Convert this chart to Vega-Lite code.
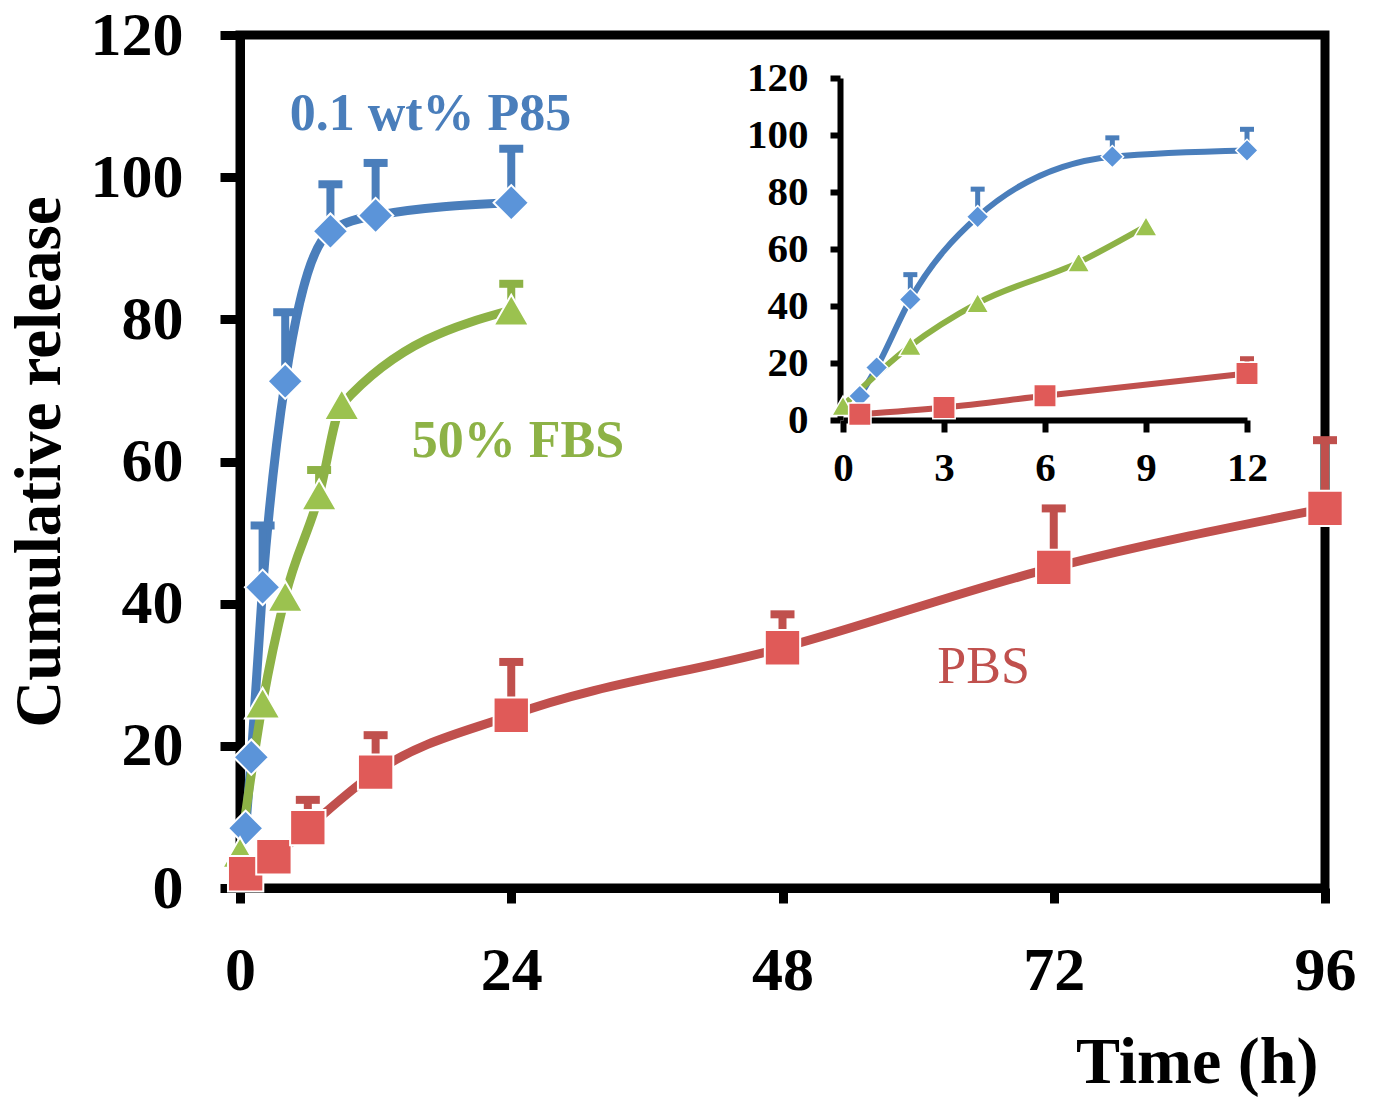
{
  "$schema": "https://vega.github.io/schema/vega-lite/v6.json",
  "width": 1085,
  "height": 853,
  "autosize": {"type": "none"},
  "padding": {"left": 240, "top": 35, "right": 49, "bottom": 214},
  "background": "white",
  "config": {
    "view": {"stroke": "black", "strokeWidth": 9},
    "font": "Liberation Serif",
    "axis": {"grid": false, "domainColor": "black", "tickColor": "black", "labelColor": "black", "titleColor": "black", "labelFont": "Liberation Serif", "titleFont": "Liberation Serif", "labelFontWeight": "bold", "titleFontWeight": "bold"}
  },
  "datasets": {
    "rel": [
      {"s": "P85", "t": 0.5, "v": 8.4, "e": null},
      {"s": "P85", "t": 1, "v": 18.4, "e": null},
      {"s": "P85", "t": 2, "v": 42.3, "e": 51},
      {"s": "P85", "t": 4, "v": 71.3, "e": 81},
      {"s": "P85", "t": 8, "v": 92.4, "e": 99},
      {"s": "P85", "t": 12, "v": 94.6, "e": 102},
      {"s": "P85", "t": 24, "v": 96.4, "e": 104},
      {"s": "FBS", "t": 0, "v": 5, "e": null},
      {"s": "FBS", "t": 2, "v": 26, "e": null},
      {"s": "FBS", "t": 4, "v": 41, "e": null},
      {"s": "FBS", "t": 7, "v": 55.3, "e": 58.8},
      {"s": "FBS", "t": 9, "v": 68, "e": null},
      {"s": "FBS", "t": 24, "v": 81.3, "e": 85},
      {"s": "PBS", "t": 0.5, "v": 2, "e": null},
      {"s": "PBS", "t": 3, "v": 4.4, "e": null},
      {"s": "PBS", "t": 6, "v": 8.5, "e": 12.4},
      {"s": "PBS", "t": 12, "v": 16.3, "e": 21.5},
      {"s": "PBS", "t": 24, "v": 24.3, "e": 31.8},
      {"s": "PBS", "t": 48, "v": 33.8, "e": 38.5},
      {"s": "PBS", "t": 72, "v": 45.1, "e": 53.4},
      {"s": "PBS", "t": 96, "v": 53.4, "e": 63}
    ],
    "labels": [
      {"s": "P85", "lab": "0.1 wt% P85", "t": 4.4, "v": 106.6},
      {"s": "FBS", "lab": "50% FBS", "t": 15.2, "v": 60.6},
      {"s": "PBS", "lab": "PBS", "t": 61.7, "v": 28.8}
    ]
  },
  "data": {"name": "rel"},
  "layer": [
    {
      "encoding": {
        "x": {"field": "t", "type": "quantitative", "scale": {"domain": [0, 96], "nice": false},
          "axis": {"values": [0, 24, 48, 72, 96], "title": "Time (h)", "titleFontSize": 66, "titleX": 1078, "titleAlign": "right", "titleAnchor": "end", "titlePadding": 29, "labelFontSize": 62, "labelPadding": 37, "tickSize": 15, "tickWidth": 9, "domainWidth": 9, "labelFlush": false}},
        "y": {"field": "v", "type": "quantitative", "scale": {"domain": [0, 120], "nice": false},
          "axis": {"values": [0, 20, 40, 60, 80, 100, 120], "title": "Cumulative release", "titleFontSize": 65, "titlePadding": 17, "labelFontSize": 62, "labelPadding": 37, "tickSize": 20, "tickWidth": 9, "domainWidth": 9, "labelFlush": false}}
      },
      "layer": [
        {"mark": {"type": "line", "interpolate": "monotone", "strokeWidth": 9},
          "encoding": {"color": {"field": "s", "type": "nominal", "scale": {"domain": ["P85", "FBS", "PBS"], "range": ["#4a7ebb", "#8db246", "#c0504d"]}, "legend": null}}},
        {"transform": [{"filter": "isValid(datum.e)"}],
          "mark": {"type": "rule", "strokeWidth": 8},
          "encoding": {"y2": {"field": "e"}, "color": {"field": "s", "type": "nominal", "legend": null}}},
        {"transform": [{"filter": "isValid(datum.e)"}],
          "mark": {"type": "tick", "orient": "horizontal", "size": 24, "thickness": 8, "opacity": 1},
          "encoding": {"y": {"field": "e", "type": "quantitative", "title": "Cumulative release"}, "color": {"field": "s", "type": "nominal", "legend": null}}},
        {"mark": {"type": "point", "filled": true, "size": 1250, "stroke": "white", "strokeWidth": 2, "opacity": 1},
          "encoding": {
            "shape": {"field": "s", "type": "nominal", "scale": {"domain": ["P85", "FBS", "PBS"], "range": ["diamond", "triangle-up", "square"]}, "legend": null},
            "fill": {"field": "s", "type": "nominal", "scale": {"domain": ["P85", "FBS", "PBS"], "range": ["#5b94d9", "#9bc24f", "#e05a58"]}, "legend": null}}},
        {"data": {"name": "labels"},
          "transform": [{"filter": "datum.s != 'PBS'"}],
          "mark": {"type": "text", "align": "left", "baseline": "alphabetic", "fontSize": 52, "fontWeight": "bold", "font": "Liberation Serif"},
          "encoding": {"text": {"field": "lab"}, "color": {"field": "s", "type": "nominal", "legend": null}}},
        {"data": {"name": "labels"},
          "transform": [{"filter": "datum.s == 'PBS'"}],
          "mark": {"type": "text", "align": "left", "baseline": "alphabetic", "fontSize": 52, "fontWeight": "normal", "font": "Liberation Serif"},
          "encoding": {"text": {"field": "lab"}, "color": {"field": "s", "type": "nominal", "legend": null}}}
      ]
    },
    {
      "transform": [{"filter": "datum.t <= 12"}],
      "encoding": {
        "x": {"field": "t", "type": "quantitative", "scale": {"domain": [0, 12], "nice": false, "range": [603, 1007]},
          "axis": {"orient": "bottom", "offset": -468, "values": [0, 3, 6, 9, 12], "title": null, "labelFontSize": 41, "labelPadding": 16, "tickSize": 12, "tickWidth": 6, "domainWidth": 6, "labelFlush": false}},
        "y": {"field": "v", "type": "quantitative", "scale": {"domain": [0, 120], "nice": false, "range": [385, 43]},
          "axis": {"orient": "left", "offset": -600, "values": [0, 20, 40, 60, 80, 100, 120], "title": null, "labelFontSize": 41, "labelPadding": 22, "tickSize": 10, "tickWidth": 6, "domainWidth": 6, "labelFlush": false}}
      },
      "layer": [
        {"mark": {"type": "line", "interpolate": "monotone", "strokeWidth": 6},
          "encoding": {"color": {"field": "s", "type": "nominal", "legend": null}}},
        {"transform": [{"filter": "isValid(datum.e) && datum.s == 'P85' || (datum.s == 'PBS' && datum.t == 12)"}],
          "mark": {"type": "rule", "strokeWidth": 5},
          "encoding": {"y2": {"field": "e"}, "color": {"field": "s", "type": "nominal", "legend": null}}},
        {"transform": [{"filter": "isValid(datum.e) && datum.s == 'P85' || (datum.s == 'PBS' && datum.t == 12)"}],
          "mark": {"type": "tick", "orient": "horizontal", "size": 14, "thickness": 5, "opacity": 1},
          "encoding": {"y": {"field": "e", "type": "quantitative", "title": null}, "color": {"field": "s", "type": "nominal", "legend": null}}},
        {"mark": {"type": "point", "filled": true, "size": 500, "stroke": "white", "strokeWidth": 1.5, "opacity": 1},
          "encoding": {
            "shape": {"field": "s", "type": "nominal", "legend": null},
            "fill": {"field": "s", "type": "nominal", "legend": null}}}
      ]
    }
  ],
  "resolve": {"scale": {"x": "independent", "y": "independent"}, "axis": {"x": "independent", "y": "independent"}}
}
